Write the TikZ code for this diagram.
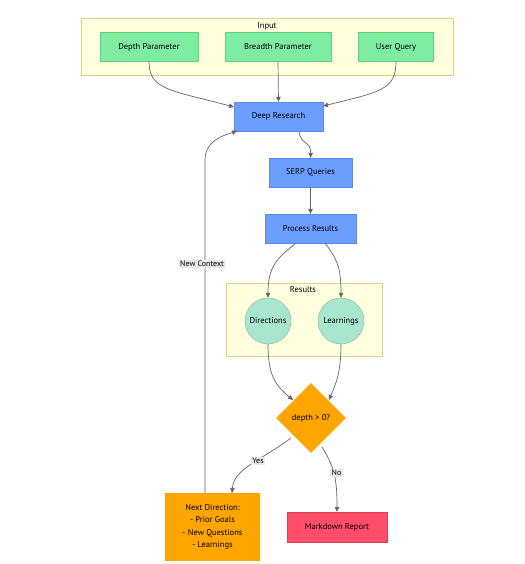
\documentclass[tikz,border=0pt]{standalone}
\usepackage{fontspec}
\setmainfont{PT Sans}
\usetikzlibrary{shapes.geometric,arrows.meta}
\definecolor{grp}{HTML}{FFFFDE}
\definecolor{grpb}{HTML}{D6D68A}
\definecolor{gfill}{HTML}{7EEDA2}
\definecolor{gline}{HTML}{5FD184}
\definecolor{bfill}{HTML}{6B9EFF}
\definecolor{bline}{HTML}{5A8BEA}
\definecolor{cfill}{HTML}{A8E6CF}
\definecolor{cline}{HTML}{7AB89F}
\definecolor{ofill}{HTML}{FFA500}
\definecolor{rfill}{HTML}{FF4D6A}
\definecolor{edge}{HTML}{666666}
\begin{document}
\begin{tikzpicture}[x=1pt,y=-1pt,
  font=\fontsize{8.5}{10}\selectfont,
  grpbox/.style={draw=grpb,fill=grp,line width=0.8pt},
  inbox/.style={draw=gline,fill=gfill,minimum width=#1,minimum height=29pt,inner sep=0pt},
  bluebox/.style={draw=bline,fill=bfill,minimum width=#1,minimum height=29pt,inner sep=0pt},
  circ/.style={circle,draw=cline,fill=cfill,minimum size=46pt,inner sep=0pt},
  conn/.style={draw=edge,line width=0.7pt,-{Triangle[length=5pt,width=4.5pt]}},
  lbl/.style={fill=black!9,inner sep=1.2pt,font=\fontsize{8}{9}\selectfont}]
\useasboundingbox (0,0) rectangle (524,564);
\fill[white] (0,0) rectangle (524,564);
% groups
\draw[grpbox] (81,18) rectangle (453,75);
\node (inputlbl) at (267,26) {Input};
\draw[grpbox] (226,283) rectangle (382,356);
\node (reslbl) at (303,290) {Results};
% nodes
\node[inbox=98pt] (dp) at (149,47) {Depth Parameter};
\node[inbox=106pt] (bp) at (278,47) {Breadth Parameter};
\node[inbox=75pt] (uq) at (396,47) {User Query};
\node[bluebox=89pt] (dr) at (278.5,116.5) {Deep Research};
\node[bluebox=83pt] (serp) at (310.5,172.5) {SERP Queries};
\node[bluebox=91pt] (pr) at (310.5,228.5) {Process Results};
\node[circ] (dir) at (268,321) {Directions};
\node[circ] (lrn) at (341,321) {Learnings};
\node[diamond,fill=ofill,minimum width=70pt,minimum height=70pt,inner sep=0pt] (dec) at (311,418) {depth > 0?};
\node[fill=ofill,minimum width=95pt,minimum height=68pt,inner sep=0pt,align=center,font=\fontsize{8.5}{12.5}\selectfont] (nd) at (212.5,527) {Next Direction:\\- Prior Goals\\- New Questions\\- Learnings};
\node[draw=rfill!85!black,fill=rfill,minimum width=100pt,minimum height=30pt,inner sep=0pt] (md) at (337,527) {Markdown Report};
% coordinates
\coordinate (dpS) at (149,61.5);
\coordinate (uqS) at (396,61.5);
\coordinate (drL) at (234,107);
\coordinate (drR) at (323,106);
\coordinate (drB1) at (299,131);
\coordinate (drB2) at (237,131);
\coordinate (prB1) at (296,243);
\coordinate (prB2) at (325,243);
\coordinate (dirS) at (268,344);
\coordinate (lrnS) at (341,344);
\coordinate (decUL) at (293,400);
\coordinate (decUR) at (329,400);
\coordinate (decLL) at (291,438);
\coordinate (decLR) at (322,447);
\coordinate (ndT) at (232,493);
\coordinate (ndT2) at (205,493);
% edges
\draw[conn] (dpS) .. controls (149,90) and (170,90) .. (drL);
\draw[conn] (bp.south) -- (dr.north);
\draw[conn] (uqS) .. controls (396,90) and (380,92) .. (drR);
\draw[conn] (drB1) .. controls (300,145) and (311,140) .. (serp.north);
\draw[conn] (serp.south) -- (pr.north);
\draw[conn] (prB1) .. controls (278,258) and (268,265) .. (dir.north);
\draw[conn] (prB2) .. controls (336,258) and (341,265) .. (lrn.north);
\draw[conn] (dirS) .. controls (268,375) and (275,385) .. (decUL);
\draw[conn] (lrnS) .. controls (341,375) and (335,385) .. (decUR);
\draw[conn] (decLL) .. controls (262,460) and (234,468) .. (ndT);
\draw[conn] (decLR) .. controls (335,468) and (337,480) .. (md.north);
\draw[conn] (ndT2) -- (205,160) .. controls (205,140) and (225,135) .. (drB2);
\node[lbl] (yes) at (258,461) {Yes};
\node[lbl] (no) at (336.5,473) {No};
\node[lbl] (nc) at (202,264) {New Context};
\end{tikzpicture}
\end{document}
